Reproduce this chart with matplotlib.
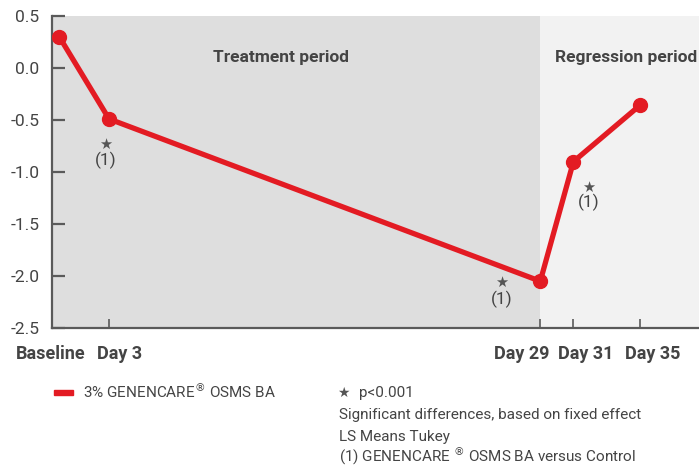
import matplotlib
matplotlib.use('Agg')
import matplotlib.pyplot as plt
import matplotlib.transforms as mtransforms

plt.rcParams['font.family'] = ['Roboto', 'DejaVu Sans']

days = [0, 3, 29, 31, 35]
day_labels = ['Baseline', 'Day 3', 'Day 29', 'Day 31', 'Day 35']
values = [0.30, -0.49, -2.05, -0.90, -0.36]
signif_days = [3, 29, 31]
series_name = '3% GENENCARE$^{®}$ OSMS BA'
yticks = [0.5, 0.0, -0.5, -1.0, -1.5, -2.0, -2.5]

red = '#e31b23'
txt = '#444444'
axis_col = '#5a5a5a'

fig = plt.figure(figsize=(6.99, 4.66), dpi=100)
ax = fig.add_axes([52 / 699, 1 - 328 / 466, 1 - 52 / 699, (328 - 16) / 466])
ax.set_xlim(-0.44, 38.57)
ax.set_ylim(-2.5, 0.5)

ax.axvspan(-0.44, 29, color='#dedede', zorder=0, lw=0)
ax.axvspan(29, 38.57, color='#f2f2f2', zorder=0, lw=0)

ax.plot(days, values, color=red, lw=3.8, marker='o', ms=10, zorder=3,
        solid_capstyle='round')

for s in ['top', 'right']:
    ax.spines[s].set_visible(False)
for s in ['left', 'bottom']:
    ax.spines[s].set_color(axis_col)
    ax.spines[s].set_linewidth(1.6)

ax.set_yticks(yticks)
ax.set_yticklabels([f'{v:.1f}' for v in yticks])
ax.tick_params(axis='y', direction='in', length=9.5, width=1.6, color=axis_col,
               labelsize=12.5, labelcolor=txt, pad=9)
ax.set_xticks(days)
ax.set_xticklabels(day_labels, fontweight='bold')
ax.tick_params(axis='x', direction='in', length=6.5, width=1.2, color=axis_col,
               labelsize=13, labelcolor=txt, pad=12)
# no tick mark at baseline
ax.xaxis.get_major_ticks()[0].tick1line.set_visible(False)
# nudge x labels like the original
shifts = [-9, 11, -19, 12, 13]
for lab, dx in zip(ax.get_xticklabels(), shifts):
    lab.set_transform(lab.get_transform() + mtransforms.ScaledTranslation(dx / 100, 0, fig.dpi_scale_trans))

# period titles
ax.text(13.35, 0.06, 'Treatment period', ha='center', va='baseline', fontsize=12.5,
        fontweight='bold', color=txt)
ax.text(34.2, 0.06, 'Regression period', ha='center', va='baseline', fontsize=12.5,
        fontweight='bold', color=txt)

# significance marks
offsets = {3: (-3, -25, -41), 29: (-39, -1, -18), 31: (15, -26, -41)}
for d in signif_days:
    v = values[days.index(d)]
    dx, dys, dyt = offsets[d]
    ax.annotate('★', (d, v), xytext=(dx * 0.72, dys * 0.72), textcoords='offset points',
                ha='center', va='center', fontsize=10.5, color='#555555', family='DejaVu Sans')
    ax.annotate('(1)', (d, v), xytext=(dx * 0.72, dyt * 0.72), textcoords='offset points',
                ha='center', va='center', fontsize=12.5, color=txt)

# legend and notes
fig.patches.append(plt.Rectangle((54 / 699, 1 - 394.5 / 466), 19 / 699, 5 / 466,
                                 transform=fig.transFigure, color=red))
fig.text(83 / 699, 1 - 391 / 466, series_name, ha='left', va='center', fontsize=11, color=txt)
fig.text(343 / 699, 1 - 393 / 466, '★', ha='center', va='center', fontsize=10, color='#555555',
         family='DejaVu Sans')
fig.text(359 / 699, 1 - 397 / 466, 'p<0.001', ha='left', va='baseline', fontsize=11, color=txt)
notes = ['Significant differences, based on fixed effect', 'LS Means Tukey',
         '(1) GENENCARE $^{®}$ OSMS BA versus Control']
note_base = [419, 441, 462]
for n, b in zip(notes, note_base):
    fig.text(339 / 699, 1 - b / 466, n, ha='left', va='baseline', fontsize=11, color=txt)

fig.savefig('out.png', dpi=100)
